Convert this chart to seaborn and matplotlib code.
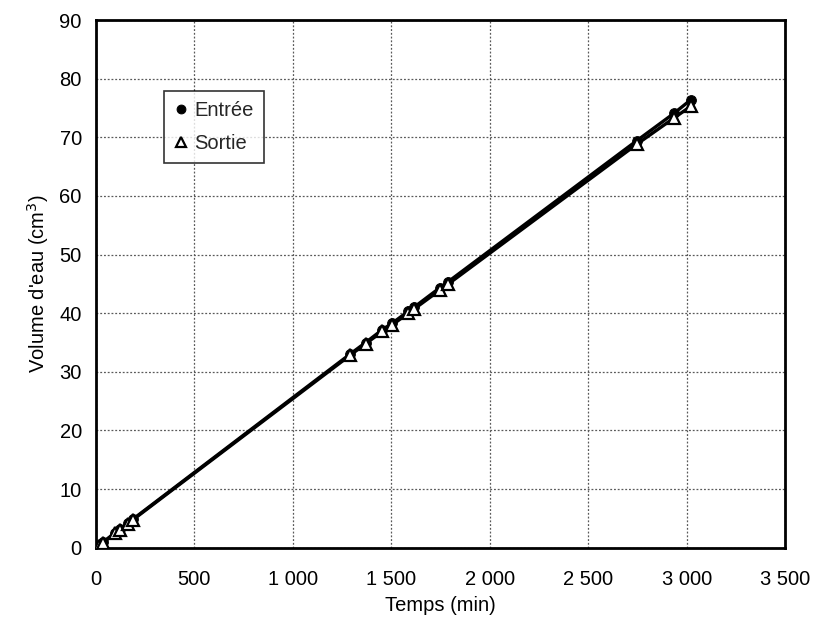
import matplotlib
matplotlib.use("Agg")
import matplotlib.pyplot as plt
from matplotlib.ticker import FuncFormatter
import seaborn as sns
import pandas as pd

# Cumulative water volume measured at inlet and outlet over time
temps = [0, 15, 35, 100, 125, 165, 190, 1290, 1370, 1455, 1505, 1585, 1615,
         1745, 1790, 2745, 2935, 3020]
vol_entree = [0, 0.4, 0.9, 2.6, 3.2, 4.2, 4.9, 33.0, 35.0, 37.2, 38.3, 40.3,
              41.0, 44.3, 45.4, 69.4, 74.1, 76.4]
vol_sortie = [0, 0.3, 0.8, 2.5, 3.0, 4.1, 4.8, 32.8, 34.8, 36.9, 38.0, 40.0,
              40.7, 43.9, 45.0, 68.8, 73.3, 75.3]

x_ticks = [0, 500, 1000, 1500, 2000, 2500, 3000, 3500]
y_ticks = [0, 10, 20, 30, 40, 50, 60, 70, 80, 90]

sns.set_theme(style="white")
plt.rcParams["font.family"] = ["Liberation Sans", "DejaVu Sans"]

df = pd.DataFrame({"Temps": temps, "Entrée": vol_entree, "Sortie": vol_sortie})

fig = plt.figure(figsize=(8.25, 6.26), dpi=100)
ax = fig.add_axes([0.116, 0.125, 0.836, 0.843])

sns.lineplot(data=df, x="Temps", y="Entrée", ax=ax, color="black", lw=2.4,
             marker="o", markersize=7, markerfacecolor="black",
             markeredgecolor="black", label="Entrée", zorder=3)
sns.lineplot(data=df, x="Temps", y="Sortie", ax=ax, color="black", lw=2.4,
             marker="^", markersize=8, markerfacecolor="white",
             markeredgecolor="black", markeredgewidth=1.6, label="Sortie",
             zorder=4)

ax.set_xlim(0, 3500)
ax.set_ylim(0, 90)
ax.set_xticks(x_ticks)
ax.set_yticks(y_ticks)
ax.xaxis.set_major_formatter(
    FuncFormatter(lambda v, p: f"{int(v):,}".replace(",", " ")))

ax.grid(True, color="0.35", linestyle=(0, (1.5, 1.5)), linewidth=0.9)
ax.set_axisbelow(True)
for s in ax.spines.values():
    s.set_color("black")
    s.set_linewidth(2.0)
ax.tick_params(axis="both", direction="out", length=4, width=1,
               color="black", labelsize=14.5, labelcolor="black")
ax.tick_params(axis="x", pad=12)
ax.tick_params(axis="y", pad=6)

ax.set_xlabel("Temps (min)", fontsize=14.5, color="black", labelpad=5)
ax.set_ylabel("Volume d'eau (cm$^3$)", fontsize=14.5, color="black",
              labelpad=6)

leg = ax.legend(loc="upper left", bbox_to_anchor=(0.085, 0.885), fontsize=14.5,
                frameon=True, fancybox=False, edgecolor="black",
                handlelength=0.6, handletextpad=0.4, borderpad=0.5,
                labelspacing=0.7, markerscale=0.9)
leg.get_frame().set_linewidth(1.2)
for h in leg.get_lines():
    h.set_linestyle("none")

fig.savefig("out.png", dpi=100)
